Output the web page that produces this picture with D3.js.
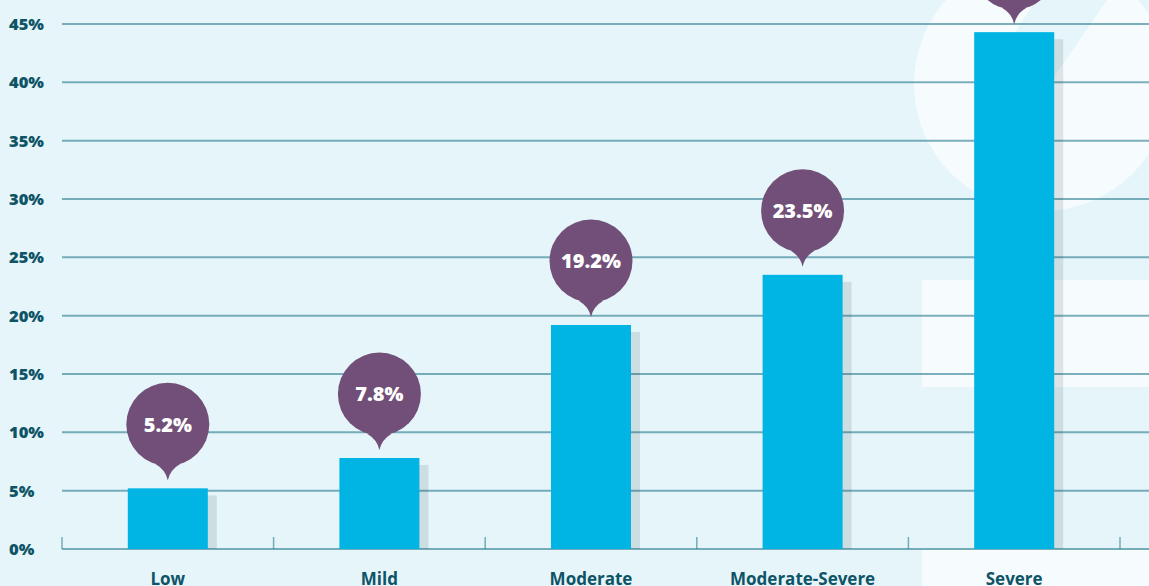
<!DOCTYPE html>
<html><head><meta charset="utf-8">
<script src="https://cdn.jsdelivr.net/npm/d3@7"></script>
<style>html,body{margin:0;padding:0;background:#e5f5fa;overflow:hidden}</style>
</head><body>
<svg id="c" width="1149" height="586"></svg>
<script>
const categories = ["Low","Mild","Moderate","Moderate-Severe","Severe"];
const values = [5.2, 7.8, 19.2, 23.5, 44.3];
const valueLabels = ["5.2%","7.8%","19.2%","23.5%","44.3%"];
const yTicks = [0,5,10,15,20,25,30,35,40,45];

const W = 1149, H = 586;
const svg = d3.select("#c");
const x = d3.scaleBand().domain(categories).range([62, 1120]).padding(0);
const y = d3.scaleLinear().domain([0,45]).range([549, 24]);
const barW = 80;

// background
svg.append("rect").attr("width",W).attr("height",H).attr("fill","#e5f5fa");
// decorative shapes
const defs = svg.append("defs");
defs.append("clipPath").attr("id","blob").append("ellipse")
  .attr("cx",1042).attr("cy",84).attr("rx",128).attr("ry",127);
svg.append("ellipse").attr("cx",1042).attr("cy",84).attr("rx",128).attr("ry",127).attr("fill","#f6fcfe");
svg.append("path").attr("clip-path","url(#blob)")
  .attr("d","M1042,-10 L1114,-10 L1052,80 L975,95 Z").attr("fill","#e5f5fa");
svg.append("rect").attr("x",922).attr("y",280).attr("width",W-922).attr("height",107).attr("fill","#f6fcfe");
svg.append("rect").attr("x",922).attr("y",550).attr("width",W-922).attr("height",H-550).attr("fill","#f6fcfe");

// gridlines
svg.append("g").selectAll("line").data(yTicks).join("line")
  .attr("x1",62).attr("x2",W).attr("y1",d=>y(d)).attr("y2",d=>y(d))
  .attr("stroke","#2a7b90").attr("stroke-opacity",0.6).attr("stroke-width",2);

// category boundary ticks
const bounds = categories.map(c=>x(c)).concat([x.range()[1]]);
svg.append("g").selectAll("line").data(bounds).join("line")
  .attr("x1",d=>d).attr("x2",d=>d).attr("y1",537).attr("y2",549)
  .attr("stroke","#2a7b90").attr("stroke-opacity",0.6).attr("stroke-width",1.5);

// y labels
svg.append("g").selectAll("text").data(yTicks).join("text")
  .attr("x",9).attr("y",d=>y(d)).attr("dy","0.36em")
  .attr("font-family","'Open Sans', sans-serif").attr("font-weight",800)
  .attr("font-size",16.5).attr("fill","#0e5466")
  .text(d=>d+"%");

const cx = c => x(c) + x.bandwidth()/2;
// shadows
svg.append("g").selectAll("rect").data(categories).join("rect")
  .attr("x",c=>cx(c)-barW/2+9).attr("width",barW)
  .attr("y",(c,i)=>y(values[i])+7).attr("height",(c,i)=>y(0)-y(values[i])-7)
  .attr("fill","rgb(0,20,30)").attr("fill-opacity",0.1);
// bars
svg.append("g").selectAll("rect").data(categories).join("rect")
  .attr("x",c=>cx(c)-barW/2).attr("width",barW)
  .attr("y",(c,i)=>y(values[i])).attr("height",(c,i)=>y(0)-y(values[i]))
  .attr("fill","#00b4e4");

// category labels
svg.append("g").selectAll("text").data(categories).join("text")
  .attr("x",cx).attr("y",585).attr("text-anchor","middle")
  .attr("font-family","'Open Sans', sans-serif").attr("font-weight",700)
  .attr("font-size",17).attr("fill","#0e5466").text(d=>d);

// bubbles
const R = 41.5;
const bub = svg.append("g").selectAll("g").data(categories).join("g")
  .attr("transform",(c,i)=>`translate(${cx(c)},${y(values[i])-8})`);
bub.append("path").attr("fill","#724f78").attr("d",()=>{
  const cyc = -56; // circle center relative to tip
  const a = 0.3;
  const x1 = -R*Math.sin(a), y1 = cyc + R*Math.cos(a);
  const x2 = R*Math.sin(a);
  return `M${x1},${y1} Q-2,${y1+6} 0,0 Q2,${y1+6} ${x2},${y1} Z`;
});
bub.append("circle").attr("cx",0).attr("cy",-56).attr("r",R).attr("fill","#724f78");
bub.append("text").attr("x",0).attr("y",-56).attr("dy","0.36em").attr("text-anchor","middle")
  .attr("font-family","'Open Sans', sans-serif").attr("font-weight",800)
  .attr("font-size",20).attr("fill","#ffffff").text((c,i)=>valueLabels[i]);
</script>
</body></html>
